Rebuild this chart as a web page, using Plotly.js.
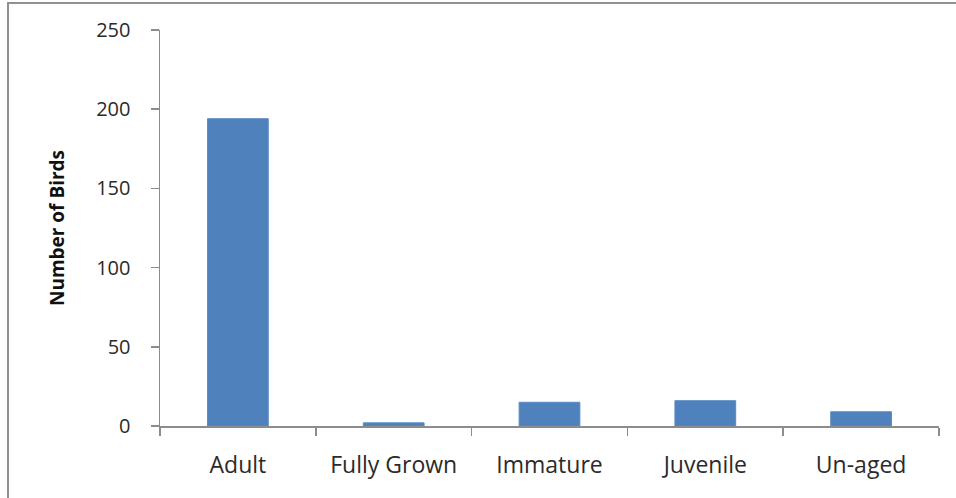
<!DOCTYPE html>
<html>
<head>
<meta charset="utf-8">
<script src="https://cdn.plot.ly/plotly-3.0.1.min.js"></script>
<style>
  html, body { margin: 0; padding: 0; background: #fff; }
  #chart { width: 956px; height: 498px; }
</style>
</head>
<body>
<div id="chart"></div>
<script>
const categories = ["Adult", "Fully Grown", "Immature", "Juvenile", "Un-aged"];
const birdCounts = [194, 2, 15, 16, 9];
const yTickValues = [0, 50, 100, 150, 200, 250];

const W = 956, H = 498;
const L = 160, R = 17, T = 30, B = 72;
const pw = W - L - R, ph = H - T - B;
const px = x => (x - L) / pw;
const py = y => (H - B - y) / ph;

const trace = {
  type: "bar",
  x: categories,
  y: birdCounts,
  marker: { color: "#4F81BD", line: { color: "#5B8CC6", width: 1 } },
  hoverinfo: "x+y"
};

const layout = {
  width: W, height: H,
  margin: { l: L, r: R, t: T, b: B, pad: 0 },
  paper_bgcolor: "#fff",
  plot_bgcolor: "#fff",
  showlegend: false,
  bargap: 0.61,
  font: { family: "'Open Sans', Lato, sans-serif", color: "#333" },
  xaxis: {
    type: "category",
    showgrid: false,
    zeroline: false,
    showline: true,
    linecolor: "#8c8c8c",
    linewidth: 1.5,
    ticks: "outside",
    tickson: "boundaries",
    ticklen: 8,
    tickcolor: "#8c8c8c",
    tickwidth: 1.5,
    ticklabelstandoff: 18,
    tickfont: { size: 23, color: "#2b2b2b" }
  },
  yaxis: {
    range: [0, 250],
    tickvals: yTickValues,
    ticktext: yTickValues.map(String),
    showgrid: false,
    zeroline: false,
    showline: true,
    linecolor: "#8c8c8c",
    linewidth: 1.5,
    ticks: "outside",
    ticklen: 8,
    tickcolor: "#8c8c8c",
    tickwidth: 1.5,
    ticklabelstandoff: 16,
    tickfont: { size: 20, color: "#2b2b2b" },
    title: { text: "<b>Number of Birds</b>", font: { size: 19, color: "#111" }, standoff: 26 }
  },
  shapes: [
    { type: "line", xref: "paper", yref: "paper", x0: px(8), x1: px(8), y0: py(2), y1: py(498), line: { color: "#909090", width: 2 } },
    { type: "line", xref: "paper", yref: "paper", x0: px(7), x1: px(956), y0: py(3), y1: py(3), line: { color: "#909090", width: 2 } }
  ]
};

Plotly.newPlot("chart", [trace], layout, { displayModeBar: false, staticPlot: true });
</script>
</body>
</html>
